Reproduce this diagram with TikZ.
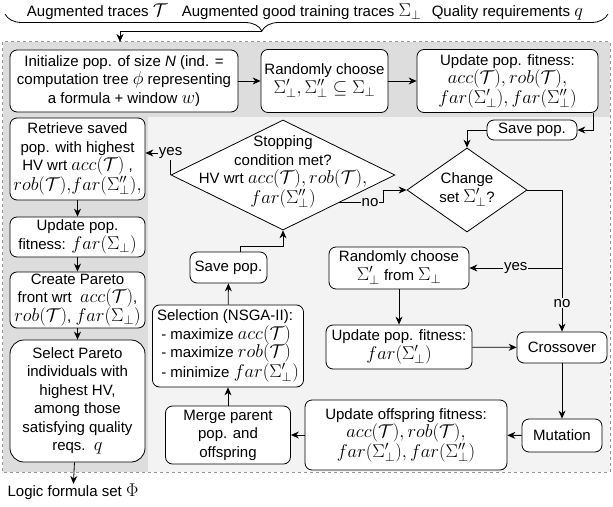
\documentclass[tikz,border=0pt]{standalone}
\usepackage{fix-cm}
\usepackage[no-math]{fontspec}
\setmainfont{Liberation Sans}
\usetikzlibrary{arrows.meta,positioning,shapes.geometric,calc,decorations.pathreplacing}
\DeclareMathSizes{15}{18.5}{13}{10}
\definecolor{OuterGray}{RGB}{221,221,221}
\definecolor{InnerGray}{RGB}{243,243,243}
\definecolor{FrameGray}{RGB}{150,150,150}
\tikzset{
  process/.style={draw=black,fill=white,rounded corners=7pt,line width=0.8pt,
    inner sep=2pt,align=center},
  decision/.style={draw=black,fill=white,diamond,line width=0.8pt,inner sep=0pt},
  arrow/.style={-{Stealth[length=8pt,width=7pt]},line width=0.8pt,black},
  tag/.style={fill=InnerGray,inner sep=1pt}
}

\begin{document}
\begin{tikzpicture}[x=1pt,y=-1pt,font=\fontsize{15}{18.5}\selectfont]
\useasboundingbox (0,0) rectangle (613,506);

% Background
\node[fill=OuterGray,minimum width=607pt,minimum height=430pt,inner sep=0pt] (frame) at (306.5,257) {};
\fill[InnerGray] (148,117) rectangle (609.6,471.6);
\draw[FrameGray,dashed,line width=0.8pt] (frame.north west) rectangle (frame.south east);

% Inputs
\node[inner sep=0pt] (in) at (305,12) {Augmented traces $\mathcal{T}$\hspace{10pt} Augmented good training traces $\Sigma_\perp$\hspace{6pt} Quality requirements $q$};
\draw[decorate,decoration={brace,mirror,amplitude=17pt,aspect=0.426},line width=0.8pt] (5,14) -- (608,14);
\coordinate (tip) at (262,31);
\coordinate (entry) at (120,42);

% Top row
\node[process,minimum width=228pt,minimum height=62pt] (init) at (124,81) {Initialize pop. of size \textit{N} (ind. =\\computation tree $\phi$ representing\\a formula + window $w$)};
\node[process,minimum width=127pt,minimum height=63pt] (randA) at (324.5,81) {Randomly choose\\$\Sigma'_\perp,\Sigma''_\perp\subseteq\Sigma_\perp$};
\node[process,minimum width=181pt,minimum height=63pt] (updA) at (507.5,81) {Update pop. fitness:\\$acc(\mathcal{T}), rob(\mathcal{T}),$\\$far(\Sigma'_\perp), far(\Sigma''_\perp)$};
\node[process,minimum width=90pt,minimum height=20pt,inner sep=1pt] (saveA) at (532,130) {Save pop.};

% Inner loop
\node[decision,minimum width=120pt,minimum height=84pt,
  label={[align=center]center:Change\\set $\Sigma'_\perp$?}] (change) at (467,190) {};
\node[decision,minimum width=224pt,minimum height=110pt,
  label={[align=center,yshift=3pt]center:Stopping\\condition met?\\HV wrt $acc(\mathcal{T}), rob(\mathcal{T}),$\\$far(\Sigma''_\perp)$}] (stop) at (283,175) {};
\node[process,minimum width=140pt,minimum height=42pt] (randB) at (399,268) {Randomly choose\\$\Sigma'_\perp$ from $\Sigma_\perp$};
\node[process,minimum width=146pt,minimum height=44pt] (updB) at (399,347) {Update pop. fitness:\\$far(\Sigma'_\perp)$};
\node[process,minimum width=90pt,minimum height=31pt] (cross) at (562,347.5) {Crossover};
\node[process,minimum width=80pt,minimum height=33pt] (mut) at (562,435.5) {Mutation};
\node[process,minimum width=202pt,minimum height=70pt] (updC) at (406,435) {Update offspring fitness:\\$acc(\mathcal{T}), rob(\mathcal{T}),$\\$far(\Sigma'_\perp), far(\Sigma''_\perp)$};
\node[process,minimum width=125pt,minimum height=58pt] (merge) at (228,435) {Merge parent\\pop. and\\offspring};
\node[process,align=left,minimum width=151pt,minimum height=82pt] (sel) at (228,346) {Selection (NSGA-II):\\\ - maximize $acc(\mathcal{T})$\\\ - maximize $rob(\mathcal{T})$\\\ - minimize $far(\Sigma'_\perp)$};
\node[process,minimum width=77pt,minimum height=31pt] (saveB) at (228.5,267.5) {Save pop.};

% Left column
\node[process,minimum width=135pt,minimum height=82pt] (retr) at (77.5,159) {Retrieve saved\\pop. with highest\\HV wrt $acc(\mathcal{T})$ ,\\$rob(\mathcal{T}){,}far(\Sigma''_\perp){,}$};
\node[process,minimum width=135pt,minimum height=40pt] (updL) at (77.5,237) {Update pop.\\fitness: $far(\Sigma_\perp)$};
\node[process,minimum width=135pt,minimum height=54pt] (pareto) at (77.5,300) {Create Pareto\\front wrt\ \ $acc(\mathcal{T})$,\\$rob(\mathcal{T})$, $far(\Sigma_\perp)$};
\node[process,minimum width=135pt,minimum height=122pt,rounded corners=14pt] (select) at (77.5,401) {Select Pareto\\individuals with\\highest HV,\\among those\\satisfying quality\\reqs.\ \ $q$};
\node[inner sep=0pt] (out) at (73,492) {Logic formula set $\Phi$};

% Connectors
\draw[arrow] (tip) -| (entry);
\draw[arrow] (init) -- (randA);
\draw[arrow] (randA) -- (updA);
\draw[arrow] ([xshift=-5pt]updA.south east) |- (saveA);
\draw[arrow] (saveA) -| (change);
\draw[arrow] (change) -| node[tag,pos=0.9]{no} (cross);
\draw[arrow] (cross.north |- randB) -- node[tag]{yes} (randB);
\draw[arrow] (randB) -- (updB);
\draw[arrow] (updB) -- (cross);
\draw[arrow] (cross) -- (mut);
\draw[arrow] (mut) -- (updC);
\draw[arrow] (updC) -- (merge);
\draw[arrow] (merge) -- (sel);
\draw[arrow] (sel) -- (saveB);
\draw[arrow] ([xshift=11.5pt]saveB.north) -- ++(0,-5) -| (stop);
\draw[arrow] ($(stop.east)!0.5!(stop.south)$) -- node[tag,pos=0.7]{no} ++(44,0) |- (change);
\draw[arrow] (stop.west) |- node[tag]{yes} ([yshift=6pt]retr.east);
\draw[arrow] (retr) -- (updL);
\draw[arrow] (updL) -- (pareto);
\draw[arrow] (pareto) -- (select);
\draw[arrow] (select) -- (out);

\end{tikzpicture}
\end{document}
